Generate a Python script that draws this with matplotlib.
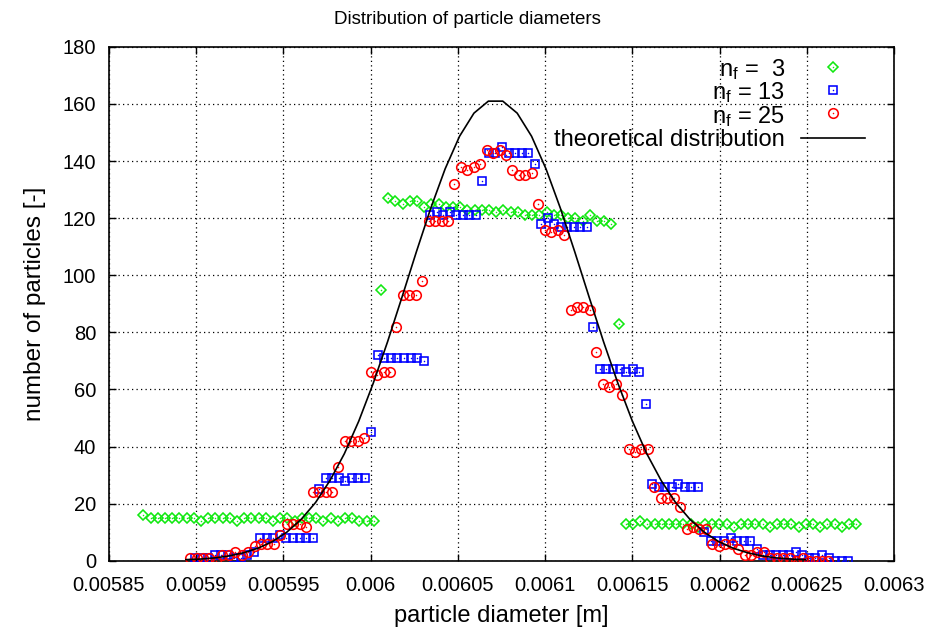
import numpy as np
import matplotlib
matplotlib.use("Agg")
import matplotlib.pyplot as plt
from matplotlib.lines import Line2D

plt.rcParams['font.family'] = ['Liberation Sans', 'DejaVu Sans']
plt.rcParams['mathtext.fontset'] = 'custom'
plt.rcParams['mathtext.rm'] = 'Liberation Sans'
plt.rcParams['mathtext.it'] = 'Liberation Sans:italic'

# ---------------- data ----------------
# nf = 3 : 100 bins
green_x_range = (0.0058698, 0.0062783)
green_y = [16, 15, 15, 15, 15, 15, 15, 15, 14, 15, 15, 15, 15, 14, 15, 15, 15,
           15, 14, 15, 15, 14, 15, 15, 15, 14, 15, 14, 15, 15, 14, 14, 14,
           95,
           127, 126, 125, 126, 126, 124, 125, 125, 124, 124, 124, 123, 123,
           123, 123, 122, 123, 122, 122, 121, 121, 121, 122, 121, 121, 120,
           120, 119, 121, 119, 119, 118,
           83,
           13, 13, 14, 13, 13, 13, 13, 13, 13, 13, 12, 13, 13, 13, 13, 12,
           13, 13, 13, 13, 12, 13, 13, 13, 12, 13, 13, 12, 13, 13, 12, 13, 13]

# nf = 13 : 101 bins
blue_x_range = (0.0058994, 0.0062737)
blue_y = [1, 1, 1, 2, 2, 2, 1, 1, 2, 3,
          8, 8, 8, 9, 8, 8, 8, 8, 8,
          25, 29, 29, 29, 28, 29, 29, 29,
          45, 72, 71, 71, 71, 71, 71, 71, 70,
          121, 122, 121, 122, 121, 121, 121, 121,
          133, 143, 143, 145, 143, 143, 143, 143,
          139, 118, 120, 118, 117, 117, 117, 117, 117,
          82, 67, 67, 67, 67, 66, 67, 66,
          55, 27, 26, 26, 26, 27, 26, 26, 26,
          10, 7, 7, 7, 8, 7, 7, 7,
          4, 2, 2, 2, 2, 2, 3, 2,
          1, 1, 2, 1, 0, 0, 0]

# nf = 25 : 100 bins
red_x_range = (0.0058966, 0.0062624)
red_y = [1, 1, 1, 1, 0, 2, 2, 3, 2, 3, 5, 6, 6, 6, 9,
         13, 13, 13, 12, 24, 24, 24, 24, 33, 42, 42, 42, 43,
         66, 65, 66, 66, 82, 93, 93, 93, 98, 119, 119, 119, 119,
         132, 138, 137, 138, 139, 144, 143, 144, 142, 137, 135, 135, 136,
         125, 116, 115, 116, 114, 88, 89, 89, 88, 73, 62, 61, 62, 58,
         39, 38, 39, 39, 26, 22, 22, 22, 19, 11, 12, 11, 11, 6, 5, 6, 6,
         4, 2, 2, 3, 3, 1, 1, 1, 1, 0, 1, 0, 0, 0, 0]

theo_x_range = (0.0058942, 0.0062491)
theo_y_half = [0.4, 0.6, 1.0, 1.7, 2.8, 4.4, 6.7, 10.0, 14.5, 20.4, 28.1,
               37.5, 48.9, 62.1, 76.7, 92.3, 108.2, 123.5, 137.3, 148.7,
               156.8, 161.0]
theo_y = theo_y_half + theo_y_half[::-1]

x_ticks = [0.00585, 0.0059, 0.00595, 0.006, 0.00605, 0.0061, 0.00615,
           0.0062, 0.00625, 0.0063]
x_tick_labels = ["0.00585", "0.0059", "0.00595", "0.006", "0.00605",
                 "0.0061", "0.00615", "0.0062", "0.00625", "0.0063"]
y_ticks = [0, 20, 40, 60, 80, 100, 120, 140, 160, 180]

series_labels = [r"$\mathrm{n_f}$ =  3", r"$\mathrm{n_f}$ = 13",
                 r"$\mathrm{n_f}$ = 25", "theoretical distribution"]

green_x = np.linspace(*green_x_range, len(green_y))
blue_x = np.linspace(*blue_x_range, len(blue_y))
red_x = np.linspace(*red_x_range, len(red_y))
theo_x = np.linspace(*theo_x_range, len(theo_y))

# ---------------- figure ----------------
fig = plt.figure(figsize=(9.30, 6.32), dpi=100)
ax = fig.add_axes([0.1170, 0.1127, 0.8443, 0.8131])

GREEN = '#10e810'
BLUE = '#0000ff'
RED = '#ff0000'
MEW = 1.15
D_MS, S_MS, O_MS = 4.6, 6.3, 6.9

ax.plot(green_x, green_y, linestyle='none', marker='D', ms=D_MS, mfc='none',
        mec=GREEN, mew=MEW, zorder=3)
ax.plot(green_x, green_y, linestyle='none', marker='o', ms=1.1, mfc=GREEN,
        mec=GREEN, mew=0, zorder=3)
ax.plot(blue_x, blue_y, linestyle='none', marker='s', ms=S_MS, mfc='none',
        mec=BLUE, mew=MEW, zorder=4)
ax.plot(blue_x, blue_y, linestyle='none', marker='o', ms=1.1, mfc=BLUE,
        mec=BLUE, mew=0, zorder=4)
ax.plot(red_x, red_y, linestyle='none', marker='o', ms=O_MS, mfc='none',
        mec=RED, mew=MEW, zorder=5)
ax.plot(red_x, red_y, linestyle='none', marker='o', ms=1.1, mfc=RED,
        mec=RED, mew=0, zorder=5)
ax.plot(theo_x, theo_y, color='black', lw=1.2, zorder=6)

ax.set_xlim(0.00585, 0.0063)
ax.set_ylim(0, 180)
ax.set_xticks(x_ticks)
ax.set_xticklabels(x_tick_labels)
ax.set_yticks(y_ticks)
ax.tick_params(direction='in', length=5, width=1.0, labelsize=14.5,
               top=True, right=True, colors='black')
ax.tick_params(axis='x', pad=11)
ax.tick_params(axis='y', pad=9)
for sp in ax.spines.values():
    sp.set_linewidth(1.2)
ax.grid(True, color='black', linestyle=(0, (1, 2.6)), linewidth=0.9)
ax.set_axisbelow(True)

ax.set_xlabel("particle diameter [m]", fontsize=17, labelpad=7)
ax.set_ylabel("number of particles [-]", fontsize=17.5, labelpad=12)
fig.text(0.503, 0.969, "Distribution of particle diameters", ha='center',
         va='center', fontsize=13.5)

# legend (gnuplot style: right-justified text, sample at right)
tx = 0.8612
rows = [0.9615, 0.9163, 0.8708, 0.8233]
mx = 0.9219
for lab, yy in zip(series_labels, rows):
    ax.text(tx, yy, lab, transform=ax.transAxes, ha='right',
            va='center_baseline', fontsize=17, zorder=7)
ax.add_line(Line2D([mx], [rows[0]], transform=ax.transAxes, marker='D', ms=D_MS,
                   mfc='none', mec=GREEN, mew=MEW, ls='none'))
ax.add_line(Line2D([mx], [rows[1]], transform=ax.transAxes, marker='s', ms=S_MS,
                   mfc='none', mec=BLUE, mew=MEW, ls='none'))
ax.add_line(Line2D([mx], [rows[2]], transform=ax.transAxes, marker='o', ms=O_MS,
                   mfc='none', mec=RED, mew=MEW, ls='none'))
for c, yy in zip([GREEN, BLUE, RED], rows[:3]):
    ax.add_line(Line2D([mx], [yy], transform=ax.transAxes, marker='o', ms=1.1,
                       mfc=c, mec=c, mew=0, ls='none'))
ax.add_line(Line2D([0.8812, 0.9631], [rows[3], rows[3]], transform=ax.transAxes,
                   color='black', lw=1.2))

fig.savefig("out.png", dpi=100)
